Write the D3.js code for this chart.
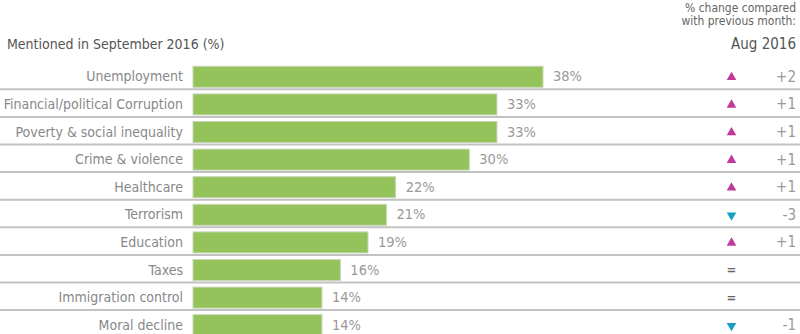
<!DOCTYPE html>
<html><head><meta charset="utf-8">
<script src="https://cdn.jsdelivr.net/npm/d3@7"></script>
<style>
body{margin:0;background:#fff;}
svg text{font-family:"DejaVu Sans Condensed","Liberation Sans Narrow",sans-serif;}
</style></head>
<body><svg id="c" width="800" height="334"></svg>
<script>
const categories = ["Unemployment","Financial/political Corruption","Poverty & social inequality","Crime & violence","Healthcare","Terrorism","Education","Taxes","Immigration control","Moral decline"];
const values = [38,33,33,30,22,21,19,16,14,14];
const changes = ["+2","+1","+1","+1","+1","-3","+1","=","=","-1"];
const directions = ["up","up","up","up","up","down","up","same","same","down"];
const titleLeft = "Mentioned in September 2016 (%)";
const titleRight = ["% change compared","with previous month:"];
const periodLabel = "Aug 2016";

const svg = d3.select("#c");
const x = d3.scaleLinear().domain([0,38]).range([193,543]);
const y = d3.scaleBand().domain(categories).range([62,62+27.6*10]).paddingInner(0);
const rows = categories.map((c,i)=>({c,v:values[i],ch:changes[i],dir:directions[i]}));

// separators
svg.selectAll("line.sep").data(rows).join("line")
  .attr("x1",0).attr("x2",800)
  .attr("y1",d=>y(d.c)+y.bandwidth()-0.3).attr("y2",d=>y(d.c)+y.bandwidth()-0.3)
  .attr("stroke","#c2c2c2").attr("stroke-width",2);

// bars
svg.selectAll("rect.bar").data(rows).join("rect")
  .attr("x",x(0)).attr("y",d=>y(d.c)+4.3)
  .attr("width",d=>x(d.v)-x(0)).attr("height",21)
  .attr("fill","#93c35a").attr("stroke","#c9d6b6").attr("stroke-width",1);

// category labels
svg.selectAll("text.cat").data(rows).join("text")
  .attr("x",183).attr("y",d=>y(d.c)+y.bandwidth()/2+1.5)
  .attr("text-anchor","end").attr("dominant-baseline","middle")
  .attr("font-size",14).attr("fill","#888").text(d=>d.c);

// value labels
svg.selectAll("text.val").data(rows).join("text")
  .attr("x",d=>x(d.v)+10).attr("y",d=>y(d.c)+y.bandwidth()/2+1.5)
  .attr("dominant-baseline","middle")
  .attr("font-size",14.5).attr("fill","#999").text(d=>d.v+"%");

// triangles
const tri = d3.symbol().type(d3.symbolTriangle).size(40);
svg.selectAll("path.tri").data(rows.filter(d=>d.dir!=="same")).join("path")
  .attr("d",tri)
  .attr("transform",d=>`translate(731.5,${y(d.c)+y.bandwidth()/2+1.5}) rotate(${d.dir==="down"?180:0})`)
  .attr("fill",d=>d.dir==="up"?"#c0399b":"#1a9fc2");

// equals
svg.selectAll("text.eq").data(rows.filter(d=>d.dir==="same")).join("text")
  .attr("x",731.5).attr("y",d=>y(d.c)+y.bandwidth()/2+1.5)
  .attr("text-anchor","middle").attr("dominant-baseline","middle")
  .attr("font-size",13).attr("font-weight","bold").attr("fill","#666").text("=");

// change values
svg.selectAll("text.chg").data(rows.filter(d=>d.dir!=="same")).join("text")
  .attr("x",796).attr("y",d=>y(d.c)+y.bandwidth()/2+1.5)
  .attr("text-anchor","end").attr("dominant-baseline","middle")
  .attr("font-size",15).attr("fill","#999").text(d=>d.ch);

// titles
svg.append("text").attr("x",7).attr("y",48.5).attr("font-size",14).attr("fill","#555").text(titleLeft);
svg.selectAll("text.tr").data(titleRight).join("text")
  .attr("x",796).attr("y",(d,i)=>12+i*12.5).attr("text-anchor","end")
  .attr("font-size",12).attr("fill","#666").text(d=>d);
svg.append("text").attr("x",796).attr("y",49).attr("text-anchor","end")
  .attr("font-size",15).attr("fill","#555").text(periodLabel);
</script></body></html>
